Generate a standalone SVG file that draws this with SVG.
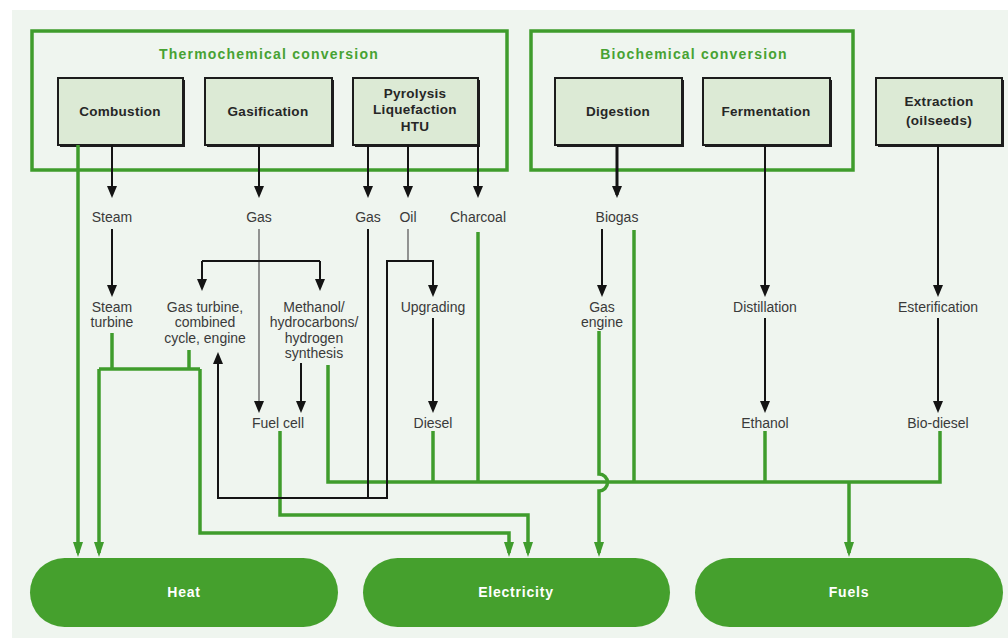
<svg xmlns="http://www.w3.org/2000/svg" width="1008" height="638" viewBox="0 0 1008 638">
<defs>
<style>
.bg{fill:#eff5ef}
.grp{fill:none;stroke:#3f9c2c;stroke-width:3.5}
.gt{font-family:"Liberation Sans",Arial,sans-serif;font-size:14px;font-weight:bold;fill:#47a233;text-anchor:middle;letter-spacing:1.2px}
.box{fill:#dcead5;stroke:#1c1c1c;stroke-width:2}
.sh{fill:#1c1c1c}
.nt{font-family:"Liberation Sans",Arial,sans-serif;font-size:13.5px;font-weight:bold;fill:#262626;text-anchor:middle;letter-spacing:0.3px}
.lb{font-family:"Liberation Sans",Arial,sans-serif;font-size:14px;fill:#3a3a3a;text-anchor:middle}
.pill{fill:#45a02d}
.pt{font-family:"Liberation Sans",Arial,sans-serif;font-size:14px;font-weight:bold;fill:#ffffff;text-anchor:middle;letter-spacing:0.8px}
.k{fill:none;stroke:#141414;stroke-width:2}
.kt{fill:none;stroke:#141414;stroke-width:3}
.gy{fill:none;stroke:#7a7a7a;stroke-width:1.6}
.g{fill:none;stroke:#3f9c2c;stroke-width:3.5}
</style>
<marker id="ab" viewBox="0 0 12 10" refX="9" refY="5" markerWidth="12" markerHeight="10" markerUnits="userSpaceOnUse" orient="auto"><path d="M0,0 L12,5 L0,10 z" fill="#141414"/></marker>
<marker id="ag" viewBox="0 0 15 10" refX="11" refY="5" markerWidth="15" markerHeight="10" markerUnits="userSpaceOnUse" orient="auto"><path d="M0,0 L15,5 L0,10 z" fill="#3f9c2c"/></marker>
</defs>
<rect class="bg" x="12" y="10" width="996" height="628"/>

<g id="thermochemical">
<rect class="grp" x="32" y="31" width="475" height="139"/>
<text class="gt" x="269" y="59">Thermochemical conversion</text>
</g>
<g id="biochemical">
<rect class="grp" x="531" y="31" width="322" height="139"/>
<text class="gt" x="694" y="59">Biochemical conversion</text>
</g>

<g id="combustion">
<rect class="sh" x="60" y="80" width="125" height="67"/>
<rect class="box" x="58" y="78" width="125" height="67"/>
<text class="nt" x="120" y="116">Combustion</text>
</g>
<g id="gasification">
<rect class="sh" x="207" y="80" width="127" height="67"/>
<rect class="box" x="205" y="78" width="127" height="67"/>
<text class="nt" x="268" y="116">Gasification</text>
</g>
<g id="pyrolysis">
<rect class="sh" x="355" y="80" width="125" height="67"/>
<rect class="box" x="353" y="78" width="125" height="67"/>
<text class="nt" x="415" y="98">Pyrolysis</text>
<text class="nt" x="415" y="114">Liquefaction</text>
<text class="nt" x="415" y="131">HTU</text>
</g>
<g id="digestion">
<rect class="sh" x="557" y="80" width="127" height="67"/>
<rect class="box" x="555" y="78" width="127" height="67"/>
<text class="nt" x="618" y="116">Digestion</text>
</g>
<g id="fermentation">
<rect class="sh" x="705" y="80" width="127" height="67"/>
<rect class="box" x="703" y="78" width="127" height="67"/>
<text class="nt" x="766" y="116">Fermentation</text>
</g>
<g id="extraction">
<rect class="sh" x="878" y="80" width="126" height="67"/>
<rect class="box" x="876" y="78" width="126" height="67"/>
<text class="nt" x="939" y="106">Extraction</text>
<text class="nt" x="939" y="125">(oilseeds)</text>
</g>

<g id="steam"><text class="lb" x="112" y="222">Steam</text></g>
<g id="gas1"><text class="lb" x="259" y="222">Gas</text></g>
<g id="gas2"><text class="lb" x="368" y="222">Gas</text></g>
<g id="oil"><text class="lb" x="408" y="222">Oil</text></g>
<g id="charcoal"><text class="lb" x="478" y="222">Charcoal</text></g>
<g id="biogas"><text class="lb" x="617" y="222">Biogas</text></g>

<g id="steam-turbine"><text class="lb" x="112" y="312">Steam</text><text class="lb" x="112" y="327">turbine</text></g>
<g id="gas-turbine"><text class="lb" x="205" y="312">Gas turbine,</text><text class="lb" x="205" y="327">combined</text><text class="lb" x="205" y="343">cycle, engine</text></g>
<g id="methanol"><text class="lb" x="314" y="312">Methanol/</text><text class="lb" x="314" y="327">hydrocarbons/</text><text class="lb" x="314" y="343">hydrogen</text><text class="lb" x="314" y="358">synthesis</text></g>
<g id="upgrading"><text class="lb" x="433" y="312">Upgrading</text></g>
<g id="gas-engine"><text class="lb" x="602" y="312">Gas</text><text class="lb" x="602" y="327">engine</text></g>
<g id="distillation"><text class="lb" x="765" y="312">Distillation</text></g>
<g id="esterification"><text class="lb" x="938" y="312">Esterification</text></g>

<g id="fuel-cell"><text class="lb" x="278" y="428">Fuel cell</text></g>
<g id="diesel"><text class="lb" x="433" y="428">Diesel</text></g>
<g id="ethanol"><text class="lb" x="765" y="428">Ethanol</text></g>
<g id="bio-diesel"><text class="lb" x="938" y="428">Bio-diesel</text></g>

<g id="heat"><rect class="pill" x="30" y="558" width="308" height="69" rx="34.5"/><text class="pt" x="184" y="597">Heat</text></g>
<g id="electricity"><rect class="pill" x="363" y="558" width="307" height="69" rx="34.5"/><text class="pt" x="516" y="597">Electricity</text></g>
<g id="fuels"><rect class="pill" x="695" y="558" width="308" height="69" rx="34.5"/><text class="pt" x="849" y="597">Fuels</text></g>

<g id="connectors">
<path class="g" d="M78,145 V553" marker-end="url(#ag)"/>
<path class="g" d="M112,333 V369"/>
<path class="g" d="M189,350 V369"/>
<path class="g" d="M99,369 H200"/>
<path class="g" d="M99,369 V553" marker-end="url(#ag)"/>
<path class="g" d="M200,369 V533 H509 V553" marker-end="url(#ag)"/>
<path class="g" d="M280,431 V515 H528 V553" marker-end="url(#ag)"/>
<path class="g" d="M328,365 V482 H940 V431"/>
<path class="g" d="M433,431 V482"/>
<path class="g" d="M478,232 V482"/>
<path class="g" d="M634,230 V482"/>
<path class="g" d="M765,431 V482"/>
<path class="g" d="M849,482 V553" marker-end="url(#ag)"/>
<path class="g" d="M599,331 V474 A8.5,8.5 0 0 1 599,491 V553" marker-end="url(#ag)"/>

<path class="k" d="M112,145 V195" marker-end="url(#ab)"/>
<path class="k" d="M259,145 V195" marker-end="url(#ab)"/>
<path class="k" d="M368,145 V195" marker-end="url(#ab)"/>
<path class="k" d="M408,145 V195" marker-end="url(#ab)"/>
<path class="k" d="M478,145 V195" marker-end="url(#ab)"/>
<path class="kt" d="M617,145 V195" marker-end="url(#ab)"/>
<path class="k" d="M765,145 V294" marker-end="url(#ab)"/>
<path class="k" d="M938,145 V294" marker-end="url(#ab)"/>
<path class="k" d="M112,229 V294" marker-end="url(#ab)"/>
<path class="gy" d="M259,229 V405"/>
<path class="k" d="M259,404 V410" marker-end="url(#ab)"/>
<path class="k" d="M202,261 H320"/>
<path class="k" d="M202,261 V288" marker-end="url(#ab)"/>
<path class="k" d="M320,261 V288" marker-end="url(#ab)"/>
<path class="k" d="M301,363 V410" marker-end="url(#ab)"/>
<path class="k" d="M368,229 V498"/>
<path class="k" d="M388,498 H218 V355" marker-end="url(#ab)"/>
<path class="gy" d="M408,229 V261"/>
<path class="k" d="M387,499 V261 H433 V294" marker-end="url(#ab)"/>
<path class="k" d="M433,318 V410" marker-end="url(#ab)"/>
<path class="k" d="M602,229 V294" marker-end="url(#ab)"/>
<path class="k" d="M765,318 V410" marker-end="url(#ab)"/>
<path class="k" d="M938,318 V410" marker-end="url(#ab)"/>
</g>
</svg>
